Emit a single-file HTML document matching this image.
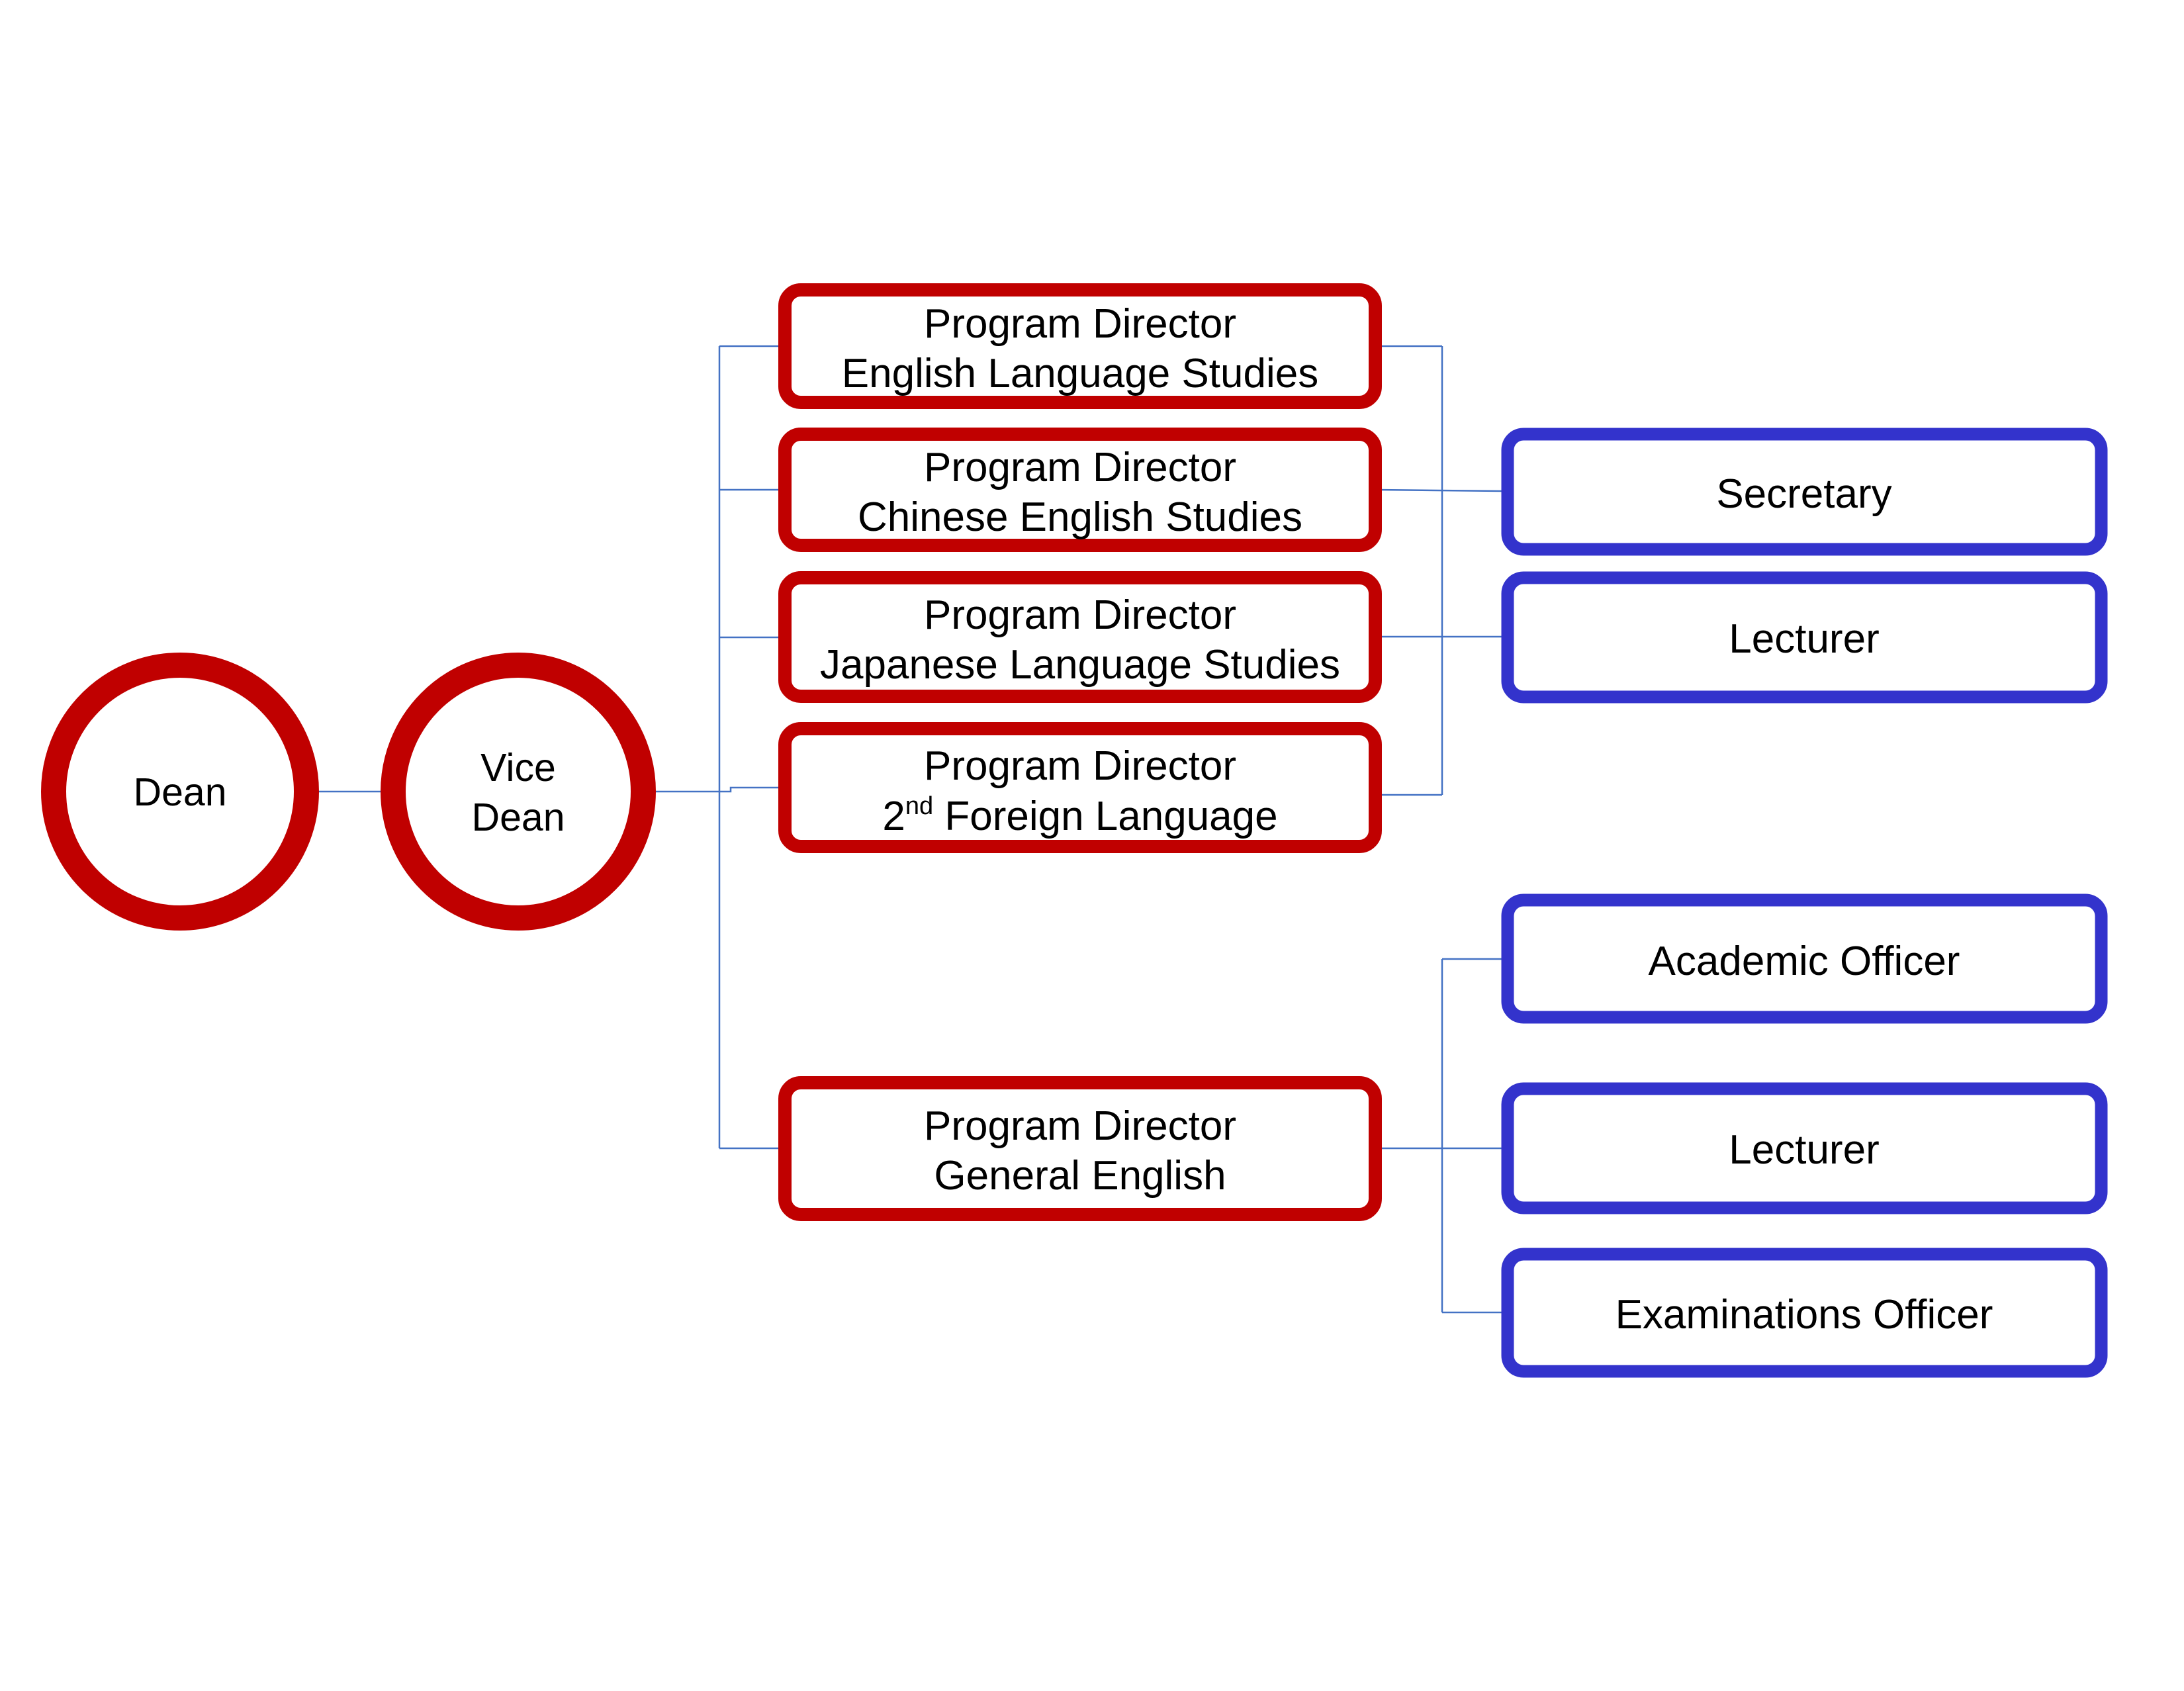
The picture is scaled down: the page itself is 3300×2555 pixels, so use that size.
<!DOCTYPE html>
<html><head><meta charset="utf-8"><style>
html,body{margin:0;padding:0;background:#fff;}
svg text{font-family:"Liberation Sans",Arial,sans-serif;fill:#000;}
</style></head><body>
<svg width="3300" height="2550" viewBox="0 0 3300 2550" xmlns="http://www.w3.org/2000/svg">
<g stroke="#4472C4" stroke-width="2.5" fill="none">
<line x1="481" y1="1196" x2="575" y2="1196"/>
<polyline points="991,1196 1104,1196 1104,1190 1186,1190"/>
<line x1="1087" y1="523" x2="1087" y2="1735"/>
<line x1="1087" y1="523" x2="1186" y2="523"/>
<line x1="1087" y1="740" x2="1186" y2="740"/>
<line x1="1087" y1="963" x2="1186" y2="963"/>
<line x1="1087" y1="1735" x2="1186" y2="1735"/>
<line x1="2080" y1="523" x2="2179" y2="523"/>
<line x1="2080" y1="740" x2="2270" y2="742"/>
<line x1="2080" y1="962" x2="2270" y2="962"/>
<polyline points="2080,1162 2080,1201 2179,1201"/>
<line x1="2179" y1="523" x2="2179" y2="1201"/>
<line x1="2179" y1="1449" x2="2179" y2="1983"/>
<line x1="2179" y1="1449" x2="2270" y2="1449"/>
<line x1="2080" y1="1735" x2="2270" y2="1735"/>
<line x1="2179" y1="1983" x2="2270" y2="1983"/>
</g>
<g fill="none" stroke="#C00000" stroke-width="38">
<ellipse cx="272" cy="1196" rx="191" ry="191"/>
<ellipse cx="783" cy="1196" rx="189" ry="191"/>
</g>
<g fill="#fff" stroke="#C00000" stroke-width="20">
<rect x="1186" y="438" width="892" height="170" rx="24"/>
<rect x="1186" y="656" width="892" height="168" rx="24"/>
<rect x="1186" y="873" width="892" height="179" rx="24"/>
<rect x="1186" y="1101" width="892" height="178" rx="24"/>
<rect x="1186" y="1636" width="892" height="199" rx="24"/>
</g>
<g fill="#fff" stroke="#3333CC" stroke-width="19">
<rect x="2278" y="656" width="897" height="174" rx="24"/>
<rect x="2278" y="873" width="897" height="180" rx="24"/>
<rect x="2278" y="1360" width="897" height="177" rx="24"/>
<rect x="2278" y="1645" width="897" height="180" rx="24"/>
<rect x="2278" y="1895" width="897" height="177" rx="24"/>
</g>
<g font-size="59" text-anchor="middle">
<text x="272" y="1217">Dean</text>
<text x="783" y="1180">Vice</text>
<text x="783" y="1255">Dean</text>
</g>
<g font-size="62" text-anchor="middle">
<text x="1632" y="510">Program Director</text>
<text x="1632" y="585">English Language Studies</text>
<text x="1632" y="727">Program Director</text>
<text x="1632" y="802">Chinese English Studies</text>
<text x="1632" y="950">Program Director</text>
<text x="1632" y="1025">Japanese Language Studies</text>
<text x="1632" y="1178">Program Director</text>
<text x="1632" y="1254">2<tspan font-size="38" dy="-24">nd</tspan><tspan dy="24"> Foreign Language</tspan></text>
<text x="1632" y="1722">Program Director</text>
<text x="1632" y="1797">General English</text>
<text x="2726" y="767">Secretary</text>
<text x="2726" y="986">Lecturer</text>
<text x="2726" y="1473">Academic Officer</text>
<text x="2726" y="1758">Lecturer</text>
<text x="2726" y="2007">Examinations Officer</text>
</g>
</svg>
</body></html>
